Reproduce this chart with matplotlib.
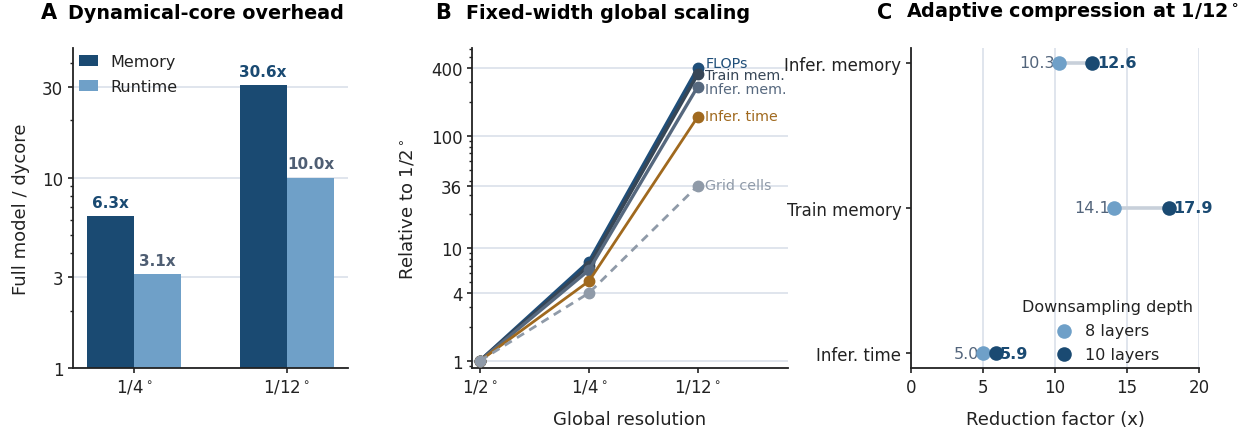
import matplotlib
matplotlib.use("Agg")
import matplotlib.pyplot as plt
from matplotlib.ticker import FixedLocator, FixedFormatter, NullFormatter

# ---------------- data ----------------
# Panel A: full model cost relative to dynamical core alone
a_resolutions = ["1/4$^\\circ$", "1/12$^\\circ$"]
a_memory = [6.3, 30.6]
a_runtime = [3.1, 10.0]

# Panel B: cost relative to the 1/2 degree model
b_resolutions = ["1/2$^\\circ$", "1/4$^\\circ$", "1/12$^\\circ$"]
b_flops = [1.0, 7.6, 400.0]
b_train_mem = [1.0, 7.0, 355.0]
b_infer_mem = [1.0, 6.4, 275.0]
b_infer_time = [1.0, 5.1, 148.0]
b_grid_cells = [1.0, 4.0, 36.0]
b_series_names = ["FLOPs", "Train mem.", "Infer. mem.", "Infer. time", "Grid cells"]
b_yticks = [1, 4, 10, 36, 100, 400]

# Panel C: reduction factor from adaptive compression at 1/12 degree
c_metrics = ["Infer. memory", "Train memory", "Infer. time"]
c_8_layers = [10.3, 14.1, 5.0]
c_10_layers = [12.6, 17.9, 5.9]

# ---------------- style ----------------
DARK_BLUE = "#1a4a72"
LIGHT_BLUE = "#6fa0c8"
SLATE = "#52647b"
GRID = "#dde3ec"
TEXT = "#222222"

plt.rcParams.update({
    "font.family": "DejaVu Sans",
    "font.size": 12,
    "text.color": TEXT,
    "axes.labelcolor": TEXT,
    "xtick.color": TEXT,
    "ytick.color": TEXT,
    "xtick.labelsize": 12,
    "ytick.labelsize": 12,
    "axes.labelsize": 13,
    "axes.edgecolor": "#222222",
    "axes.linewidth": 1.3,
    "xtick.major.width": 1.2,
    "ytick.major.width": 1.2,
    "ytick.minor.width": 1.0,
    "legend.handlelength": 1.1,
    "mathtext.default": "regular",
})

W, H = 1243, 431
fig = plt.figure(figsize=(W / 100, H / 100), dpi=100)

def px_axes(left, right, top=49, bottom=369):
    return fig.add_axes([left / W, (H - bottom) / H, (right - left) / W, (bottom - top) / H])

axA = px_axes(73, 348)
axB = px_axes(472, 788)
axC = px_axes(911, 1199)

for ax in (axA, axB, axC):
    ax.spines["top"].set_visible(False)
    ax.spines["right"].set_visible(False)
    ax.set_axisbelow(True)

def panel_title(ax, letter, title, title_dy=0.0):
    ax.text(-0.118, 1.094, letter, transform=ax.transAxes, fontsize=15,
            fontweight="bold", color="black", ha="left", va="baseline")
    ax.text(-0.019, 1.094 + title_dy, title, transform=ax.transAxes, fontsize=13.8,
            fontweight="bold", color="black", ha="left", va="baseline")

# ---------------- Panel A ----------------
xa = list(range(len(a_resolutions)))
bw = 0.31
mem_bars = axA.bar([x - bw / 2 for x in xa], a_memory, width=bw, color=DARK_BLUE,
                   label="Memory", zorder=2)
run_bars = axA.bar([x + bw / 2 for x in xa], a_runtime, width=bw, color=LIGHT_BLUE,
                   label="Runtime", zorder=2)
axA.set_yscale("log")
axA.set_ylim(1, 48)
axA.set_xlim(-0.4, 1.4)
axA.yaxis.set_major_locator(FixedLocator([1, 3, 10, 30]))
axA.yaxis.set_major_formatter(FixedFormatter(["1", "3", "10", "30"]))
axA.yaxis.set_minor_formatter(NullFormatter())
axA.set_xticks(xa)
axA.set_xticklabels(a_resolutions)
axA.grid(axis="y", which="major", color=GRID, lw=1.3)
axA.set_ylabel("Full model / dycore", labelpad=9)
for bar, v in zip(mem_bars, a_memory):
    axA.annotate(f"{v:.1f}x", (bar.get_x() + bar.get_width() / 2, v), xytext=(0, 4.5),
                 textcoords="offset points", ha="center", va="bottom",
                 fontsize=11, fontweight="bold", color=DARK_BLUE)
for bar, v in zip(run_bars, a_runtime):
    axA.annotate(f"{v:.1f}x", (bar.get_x() + bar.get_width() / 2, v), xytext=(0, 4.5),
                 textcoords="offset points", ha="center", va="bottom",
                 fontsize=11, fontweight="bold", color="#4f5e73")
axA.legend(loc="upper left", frameon=False, fontsize=11.5, borderaxespad=0.0,
           handlelength=1.15, labelspacing=0.62)
panel_title(axA, "A", "Dynamical-core overhead")

# ---------------- Panel B ----------------
xb = list(range(len(b_resolutions)))
b_series = [b_flops, b_train_mem, b_infer_mem, b_infer_time, b_grid_cells]
b_colors = ["#1f4e79", "#374656", "#56687e", "#a0691e", "#8f9aa8"]
b_lw = [2.6, 2.6, 2.4, 2.0, 2.0]
b_ls = ["-", "-", "-", "-", (0, (3, 2.2))]
b_label_dy = [4.2, -0.8, -1.8, 0.6, 0.6]
for vals, name, col, lw, ls, dy in zip(b_series, b_series_names, b_colors, b_lw, b_ls, b_label_dy):
    axB.plot(xb, vals, color=col, lw=lw, ls=ls, marker="o", markersize=7.5, zorder=3)
    axB.annotate(name, (xb[-1], vals[-1]), xytext=(5.5, dy), textcoords="offset points",
                 ha="left", va="center", fontsize=10.3, color=col, zorder=4)
axB.set_yscale("log")
axB.set_ylim(0.86, 607)
axB.set_xlim(-0.075, 2.83)
axB.yaxis.set_major_locator(FixedLocator(b_yticks))
axB.yaxis.set_major_formatter(FixedFormatter([str(t) for t in b_yticks]))
axB.yaxis.set_minor_formatter(NullFormatter())
axB.set_xticks(xb)
axB.set_xticklabels(b_resolutions)
axB.grid(axis="y", which="major", color=GRID, lw=1.3)
axB.set_xlabel("Global resolution", labelpad=10)
axB.set_ylabel("Relative to 1/2$^\\circ$", labelpad=10)
panel_title(axB, "B", "Fixed-width global scaling")

# ---------------- Panel C ----------------
yc = list(range(len(c_metrics)))
for y, a, b in zip(yc, c_8_layers, c_10_layers):
    axC.plot([a, b], [y, y], color="#c8d0da", lw=2.6, solid_capstyle="butt", zorder=2)
axC.scatter(c_8_layers, yc, s=110, color=LIGHT_BLUE, zorder=4, label="8 layers",
            linewidths=0)
axC.scatter(c_10_layers, yc, s=110, color=DARK_BLUE, zorder=4, label="10 layers",
            linewidths=0)
for y, a, b in zip(yc, c_8_layers, c_10_layers):
    axC.text(a - 0.3, y, f"{a:.1f}", ha="right", va="center", fontsize=11.5,
             color=SLATE, zorder=3)
    axC.text(b + 0.3, y, f"{b:.1f}", ha="left", va="center", fontsize=11.5,
             fontweight="bold", color=DARK_BLUE, zorder=3)
axC.set_xlim(0, 20)
axC.set_ylim(2.1, -0.1)
axC.set_yticks(yc)
axC.set_yticklabels(c_metrics)
axC.set_xticks([0, 5, 10, 15, 20])
axC.grid(axis="x", color=GRID, lw=1.3)
axC.set_xlabel("Reduction factor (x)", labelpad=10)
axC.legend(loc="lower right", frameon=False, fontsize=11.5, title="Downsampling depth",
           title_fontsize=11.5, borderaxespad=0.0, labelspacing=0.55)
panel_title(axC, "C", "Adaptive compression at 1/12$^\\circ$", title_dy=0.006)

fig.savefig("out.png", dpi=100)
